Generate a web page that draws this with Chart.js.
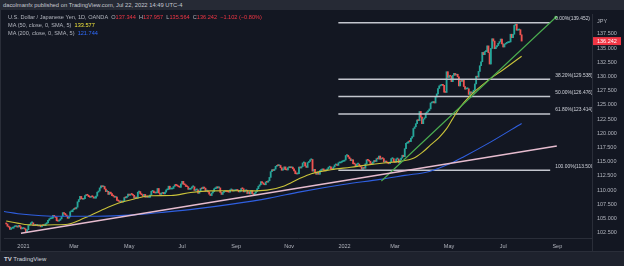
<!DOCTYPE html>
<html>
<head>
<meta charset="utf-8">
<script src="https://cdn.jsdelivr.net/npm/chart.js@4.4.0/dist/chart.umd.min.js"></script>
<style>
html, body { margin:0; padding:0; width:624px; height:266px; overflow:hidden; background:#131722; font-family:"Liberation Sans", Arial, sans-serif; }
#top { position:absolute; left:0; top:0; width:624px; height:10px; background:#262a35; color:#c5c8d0; font-size:5.8px; line-height:10px; padding-left:3px; box-sizing:border-box; }
#wrap { position:absolute; left:0; top:10px; width:624px; height:241px; }
#legend { position:absolute; left:8px; top:13px; font-size:5.6px; color:#b2b5be; line-height:8px; white-space:nowrap; }
#legend .r { color:#f23645; }
#legend .yl { color:#f3e63c; }
#legend .bl { color:#2f6bff; }
#foot { position:absolute; left:0; top:251px; width:624px; height:15px; background:#1e222d; border-top:1px solid #2a2e39; box-sizing:border-box; color:#d1d4dc; font-size:6px; line-height:14px; padding-left:4px; }
#edge { position:absolute; left:0; top:10px; width:1px; height:241px; background:#2a2e39; }
#corner { position:absolute; left:592px; top:238px; width:1px; height:13px; background:#2a2e39; }
</style>
</head>
<body>
<div id="top">dacolmanfx published on TradingView.com, Jul 22, 2022 14:49 UTC-4</div>
<div id="wrap"><canvas id="chart" width="624" height="241"></canvas></div>
<div id="edge"></div>
<div id="corner"></div>
<div id="legend">
  <div>U.S. Dollar / Japanese Yen, 1D, OANDA&nbsp; O<span class="r">137.344</span>&nbsp; H<span class="r">137.957</span>&nbsp; L<span class="r">135.564</span>&nbsp; C<span class="r">136.242</span>&nbsp; <span class="r">−1.102 (−0.80%)</span></div>
  <div>MA (50, close, 0, SMA, 5)&nbsp; <span class="yl">133.577</span></div>
  <div>MA (200, close, 0, SMA, 5)&nbsp; <span class="bl">121.744</span></div>
</div>
<div id="foot"><b>TV</b> TradingView</div>

<script>
/*------------------------------------
* Data (bar index 0 = 1 Jan 2021)
------------------------------------ */
var startIndex = -14;
var firstOpen = 104.20;
var closes = [
  // Dec 2020
  104.05, 103.66, 103.50, 103.10, 103.30, 103.30, 103.55, 103.60, 103.65, 103.50, 103.80, 103.55, 103.20, 103.25,
  // Jan 2021
  103.25, 103.15, 102.70, 103.05, 103.80, 103.95, 104.25, 104.25, 103.80, 103.85, 103.80, 103.85, 103.70, 103.85, 103.55, 103.80, 103.75, 103.75, 104.10, 104.25, 104.70,
  // Feb
  104.95, 105.00, 105.05, 105.55, 105.40, 105.20, 104.60, 104.55, 104.70, 104.95, 105.40, 106.05, 105.90, 105.65, 105.45, 105.05, 105.30, 106.20, 106.20, 106.55,
  // Mar
  106.75, 106.70, 107.00, 107.95, 108.35, 108.90, 108.50, 108.40, 108.50, 109.05, 109.15, 109.10, 108.85, 108.75, 108.90, 108.85, 108.60, 108.60, 108.95, 109.65, 109.85, 110.40, 110.75,
  // Apr
  110.60, 110.65, 110.20, 109.75, 109.80, 109.25, 109.65, 109.40, 109.05, 108.95, 108.75, 108.80, 108.20, 108.10, 107.95, 108.00, 107.90, 108.10, 108.70, 108.65, 108.90, 109.30,
  // May
  109.10, 109.30, 109.25, 109.10, 108.60, 108.80, 108.60, 109.65, 109.75, 109.35, 109.20, 108.90, 109.25, 108.75, 108.95, 108.75, 108.75, 109.15, 109.80, 109.85, 109.55,
  // Jun
  109.50, 109.55, 110.30, 109.50, 109.25, 109.45, 109.60, 109.35, 109.65, 110.05, 110.10, 110.70, 110.20, 110.20, 110.30, 110.65, 110.95, 110.85, 110.75, 110.60, 110.50, 111.10,
  // Jul
  111.55, 111.05, 110.95, 110.65, 110.60, 110.15, 110.15, 110.35, 110.60, 110.60, 109.95, 110.05, 110.05, 109.45, 109.85, 110.30, 110.25, 110.55, 110.35, 109.85, 109.90, 109.70,
  // Aug
  109.30, 109.05, 109.50, 109.75, 110.25, 110.30, 110.60, 110.40, 110.40, 109.60, 109.25, 109.60, 109.75, 109.80, 109.75, 109.70, 109.65, 110.05, 110.10, 109.85, 109.90, 109.95,
  // Sep
  110.00, 109.95, 109.70, 109.80, 110.30, 110.25, 109.70, 109.90, 110.00, 109.40, 109.70, 109.35, 109.95, 109.40, 109.20, 109.50, 109.75, 110.25, 110.70, 110.95, 111.50, 111.30,
  // Oct
  111.05, 110.95, 111.45, 111.40, 111.65, 112.25, 113.25, 113.60, 113.45, 113.70, 114.20, 114.35, 114.30, 114.35, 113.95, 113.50, 113.70, 114.10, 113.60, 113.55, 113.95,
  // Nov
  114.00, 113.95, 114.05, 113.75, 113.40, 112.90, 112.85, 112.90, 114.05, 113.90, 114.15, 114.80, 114.85, 114.25, 114.00, 114.85, 115.05, 115.35, 115.40, 113.35, 113.65, 113.15,
  // Dec
  112.80, 113.15, 112.80, 113.45, 113.55, 113.75, 113.50, 113.40, 113.55, 113.75, 114.05, 114.10, 113.70, 113.65, 114.10, 114.45, 114.45, 114.35, 114.80, 114.80, 114.95, 115.05, 115.10,
  // Jan 2022
  115.30, 116.10, 116.15, 115.85, 115.55, 115.20, 115.35, 114.65, 114.60, 114.20, 114.60, 114.60, 114.30, 114.10, 113.70, 113.95, 113.85, 114.65, 115.35, 115.25, 115.10,
  // Feb
  114.70, 114.60, 114.95, 115.20, 115.05, 115.55, 115.50, 116.00, 115.45, 115.60, 115.55, 114.95, 115.05, 114.95, 114.75, 114.65, 114.95, 115.55, 115.55, 114.95,
  // Mar
  114.90, 115.50, 115.50, 114.80, 115.30, 115.65, 116.15, 115.90, 117.30, 118.25, 118.30, 118.60, 118.55, 119.15, 119.45, 120.85, 121.15, 121.70, 122.35, 122.25, 123.85, 122.85, 121.70,
  // Apr
  122.50, 122.75, 123.60, 123.75, 124.00, 124.30, 125.35, 125.40, 125.60, 125.35, 126.40, 126.95, 127.90, 128.35, 128.45, 128.50, 128.45, 127.25, 127.20, 130.85, 129.85,
  // May
  130.15, 130.05, 129.10, 130.20, 130.55, 130.25, 130.40, 129.95, 128.35, 129.20, 129.15, 129.35, 128.25, 127.80, 127.85, 127.85, 126.85, 127.30, 127.10, 127.10, 127.60, 128.70,
  // Jun
  130.05, 129.90, 130.90, 131.90, 132.60, 134.25, 133.85, 134.40, 134.40, 135.40, 134.20, 132.20, 134.95, 136.65, 136.25, 134.90, 135.20, 135.45, 135.85, 136.15, 136.60, 135.75,
  // Jul
  135.20, 135.70, 135.85, 135.95, 136.00, 136.10, 137.45, 136.85, 137.45, 139.00, 139.20, 138.15, 138.20, 138.25, 137.344, 136.242
];

// moving averages: [bar index, value]
var ma50 = [[-14,104.57],[-5,104.2],[8,103.83],[25,103.9],[36,104.0],[49,105.04],[63,106.43],[77,107.69],[90,108.45],[104,109.02],[120,109.05],[136,109.6],[152,109.88],[170,109.9],[185,109.88],[198,110.0],[212,110.75],[224,112.0],[234,112.9],[250,113.6],[266,114.03],[280,114.45],[293,114.78],[306,115.07],[317,115.6],[324,116.6],[331,117.96],[338,119.3],[344,120.83],[349,122.6],[354,124.3],[363,126.6],[377,129.2],[390,131.2],[405,133.577]];
var ma200 = [[-16,106.25],[0,105.75],[15,105.5],[30,105.4],[60,105.4],[90,105.65],[112,106.08],[140,106.7],[168,107.5],[200,108.6],[225,109.7],[260,111.0],[290,111.9],[310,112.6],[330,113.3],[345,114.5],[358,115.9],[380,118.5],[405,121.744]];

var fibLevels = [139.452, 129.538, 126.476, 123.414, 113.500];
var fibNames = ["0.00%", "38.20%", "50.00%", "61.80%", "100.00%"];
var fibSpan = [256, 428.2];
var greenTrend = [[291,111.61],[432.8,140.44]];
var pinkTrend = [[-2,102.40],[433.6,117.79]];

var priceTicks = [102.5,105,107.5,110,112.5,115,117.5,120,122.5,125,127.5,130,132.5,135,137.5];
var timeTickIdx = [0,41,86,129,173,216,261,302,346,390,434];
var timeTickLabels = ["2021","Mar","May","Jul","Sep","Nov","2022","Mar","May","Jul","Sep"];

/*------------------------------------
* Chart
------------------------------------ */
var FONT = "Liberation Sans";
var axisColor = "#2a2e39";
var textColor = "#b2b5be";

var candles = [];
var candleColors = [];
closes.forEach(function (c, k) {
  var o = k ? closes[k - 1] : firstOpen;
  candles.push({ x: startIndex + k, y: [o, c] });
  candleColors.push(c >= o ? "#26a69a" : "#ef5350");
});

function pts(arr) { return arr.map(function (p) { return { x: p[0], y: p[1] }; }); }

var datasets = [
  { type: "bar", data: candles, backgroundColor: candleColors, barThickness: 1.2, minBarLength: 1, grouped: false, order: 10 },
  { type: "line", data: pts(ma200), borderColor: "#2f5fe0", borderWidth: 1.1, pointRadius: 0, cubicInterpolationMode: "monotone", order: 2 },
  { type: "line", data: pts(ma50), borderColor: "#c9c23a", borderWidth: 1.1, pointRadius: 0, cubicInterpolationMode: "monotone", order: 2 },
  { type: "line", data: pts(pinkTrend), borderColor: "#e6bccf", borderWidth: 1.5, pointRadius: 0, order: 1 },
  { type: "line", data: pts(greenTrend), borderColor: "#4caf50", borderWidth: 1.1, pointRadius: [0, 1.5], pointBackgroundColor: "#4caf50", pointBorderWidth: 0, order: 1 }
];
fibLevels.forEach(function (lv) {
  datasets.push({ type: "line", data: [{ x: fibSpan[0], y: lv }, { x: fibSpan[1], y: lv }], borderColor: "#c3c6ce", borderWidth: 1.5, pointRadius: 0, order: 3 });
});

var overlay = {
  id: "overlay",
  afterDatasetsDraw: function (chart) {
    var ctx = chart.ctx, a = chart.chartArea, x = chart.scales.x, y = chart.scales.y;
    ctx.save();
    ctx.beginPath();
    ctx.rect(a.left, a.top, a.right - a.left, a.bottom - a.top);
    ctx.clip();
    ctx.font = "4.9px '" + FONT + "'";
    ctx.fillStyle = "#d1d4dc";
    ctx.textBaseline = "middle";
    fibLevels.forEach(function (lv, k) {
      ctx.fillText(fibNames[k] + "(" + lv.toFixed(3) + ")", x.getPixelForValue(fibSpan[1]) + 5, y.getPixelForValue(lv) - 4);
    });
    ctx.restore();

    ctx.save();
    var last = closes[closes.length - 1];
    var py = y.getPixelForValue(last);
    ctx.fillStyle = "#f23645";
    ctx.fillRect(a.right + 1, py - 4, 28, 8);
    ctx.font = "5.5px '" + FONT + "'";
    ctx.textBaseline = "middle";
    ctx.fillStyle = "#ffffff";
    ctx.fillText(last.toFixed(3), a.right + 5, py);
    ctx.fillStyle = textColor;
    ctx.fillText("JPY", a.right + 5, a.top + 7);
    ctx.restore();
  }
};

var chartUSDJPY = new Chart(document.getElementById("chart"), {
  type: "bar",
  data: { datasets: datasets },
  options: {
    responsive: false,
    animation: false,
    events: [],
    devicePixelRatio: 1,
    layout: { padding: { left: 3, top: 0, right: 0, bottom: 0 } },
    plugins: { legend: { display: false }, tooltip: { enabled: false } },
    scales: {
      x: {
        type: "linear",
        min: -15.8,
        max: 462.2,
        offset: false,
        afterBuildTicks: function (s) { s.ticks = timeTickIdx.map(function (v) { return { value: v }; }); },
        afterFit: function (s) { s.height = 13; s.paddingLeft = 0; s.paddingRight = 0; },
        ticks: {
          autoSkip: false, maxRotation: 0, padding: 5, color: textColor,
          font: { family: FONT, size: 5.5 },
          callback: function (v, i) { return timeTickLabels[i]; }
        },
        grid: { display: false, drawTicks: false },
        border: { display: true, color: axisColor }
      },
      y: {
        position: "right",
        min: 101.58,
        max: 141.01,
        afterBuildTicks: function (s) { s.ticks = priceTicks.map(function (v) { return { value: v }; }); },
        afterFit: function (s) { s.width = 32; s.paddingTop = 0; s.paddingBottom = 0; },
        ticks: {
          padding: 5, color: textColor,
          font: { family: FONT, size: 5.5 },
          callback: function (v) { return Number(v).toFixed(3); }
        },
        grid: { display: false, drawTicks: false },
        border: { display: true, color: axisColor }
      }
    }
  },
  plugins: [overlay]
});
</script>
</body>
</html>
